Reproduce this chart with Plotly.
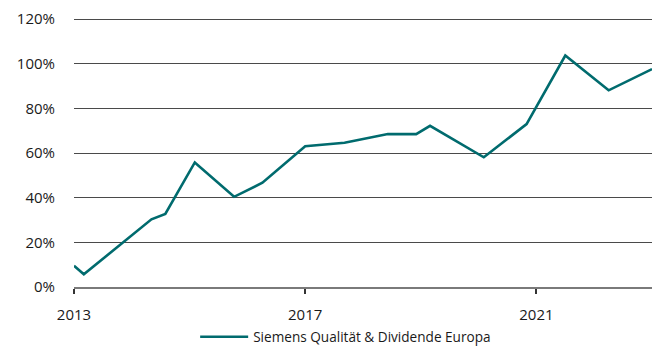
import plotly.graph_objects as go

# Performance since launch (cumulative return, fraction)
years = [2013.0, 2013.17, 2014.34, 2014.58, 2015.09, 2015.77, 2016.26, 2017.0,
         2017.68, 2018.43, 2018.92, 2019.16, 2020.09, 2020.83, 2021.50, 2022.25, 2023.0]
returns = [0.095, 0.057, 0.303, 0.327, 0.558, 0.404, 0.467, 0.631,
           0.646, 0.685, 0.685, 0.722, 0.581, 0.730, 1.037, 0.881, 0.976]

series_name = "Siemens Qualität & Dividende Europa"
x_ticks = [2013, 2017, 2021]
x_tick_labels = ["2013", "2017", "2021"]
y_ticks = [0, 0.2, 0.4, 0.6, 0.8, 1.0, 1.2]

teal = "#006B6E"
font_family = "Open Sans, Noto Sans, sans-serif"

fig = go.Figure()
fig.add_trace(go.Scatter(
    x=years, y=returns, mode="lines", name=series_name,
    line=dict(color=teal, width=2.6),
))

fig.update_layout(
    width=652, height=348,
    margin=dict(l=74, r=0, t=18, b=61, autoexpand=False),
    plot_bgcolor="white", paper_bgcolor="white",
    font=dict(family=font_family, color="#1a1a1a", size=14),
    showlegend=True,
    legend=dict(
        orientation="h", x=0.47, xanchor="center", y=-0.128, yanchor="top",
        font=dict(size=13.6), itemwidth=48,
    ),
)

fig.update_xaxes(
    range=[2013, 2023], tickvals=x_ticks, ticktext=x_tick_labels,
    showgrid=False, showline=True, linecolor="#7a7a7a", linewidth=1.5,
    ticks="outside", ticklen=5, tickcolor="#333", tickwidth=1.5,
    tickfont=dict(size=15), ticklabelstandoff=8, zeroline=False,
)
fig.update_yaxes(
    range=[0, 1.205], tickvals=y_ticks, tickformat=".0%",
    showgrid=True, gridcolor="#4a4a4a", gridwidth=1,
    zeroline=False, showline=False,
    tickfont=dict(size=15), ticklabelstandoff=18,
)

fig.write_html("out.html")
